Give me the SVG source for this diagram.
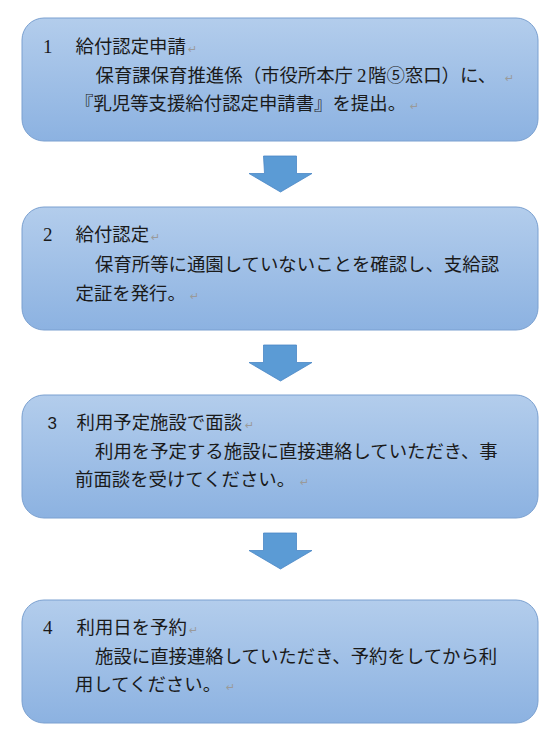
<svg xmlns="http://www.w3.org/2000/svg" width="559" height="747" viewBox="0 0 559 747">
<defs>
<linearGradient id="g" x1="0" y1="0" x2="0" y2="1">
<stop offset="0" stop-color="#b3cdec"/>
<stop offset="1" stop-color="#8cb2e1"/>
</linearGradient>
</defs>
<style>
.box{fill:url(#g);stroke:#7aa0d0;stroke-width:1}
.t{font-family:"Noto Sans CJK JP",sans-serif;font-size:18.4px;fill:#1a1a1a}
.n{font-family:"Liberation Serif",serif;font-size:19px;fill:#1a1a1a}
.ns{font-family:"Liberation Sans",sans-serif;font-size:17px;fill:#1a1a1a}
.r{font-family:"DejaVu Sans",sans-serif;font-size:11px;fill:#9a9a9a}
.arrow{fill:#5b9bd5;stroke:#4a86c5;stroke-width:0.8}
</style>
<rect width="559" height="747" fill="#ffffff"/>

<g id="node1">
<rect class="box" x="22" y="18" width="516" height="123" rx="22" ry="22"/>
<text class="n" x="43" y="53">1</text>
<text class="t" x="75.5" y="53">給付認定申請</text>
<text class="r" x="188" y="53">↵</text>
<text class="t" x="95.5" y="82">保育課保育推進係（市役所本庁</text>
<text class="n" x="357" y="82">2</text>
<text class="t" x="368" y="82">階⑤窓口）に、</text>
<text class="r" x="505" y="82">↵</text>
<text class="t" x="75" y="110">『乳児等支援給付認定申請書』を提出。</text>
<text class="r" x="410" y="110">↵</text>
</g>

<g id="node2">
<rect class="box" x="22" y="207" width="516" height="123" rx="22" ry="22"/>
<text class="n" x="43" y="241">2</text>
<text class="t" x="75.5" y="241">給付認定</text>
<text class="r" x="151" y="241">↵</text>
<text class="t" x="95" y="271">保育所等に通園していないことを確認し、支給認</text>
<text class="t" x="75.5" y="300">定証を発行。</text>
<text class="r" x="190" y="300">↵</text>
</g>

<g id="node3">
<rect class="box" x="22" y="395" width="516" height="123" rx="22" ry="22"/>
<text class="ns" x="47.5" y="429">3</text>
<text class="t" x="76.5" y="429">利用予定施設で面談</text>
<text class="r" x="245" y="429">↵</text>
<text class="t" x="95" y="458">利用を予定する施設に直接連絡していただき、事</text>
<text class="t" x="75" y="486">前面談を受けてください。</text>
<text class="r" x="300" y="486">↵</text>
</g>

<g id="node4">
<rect class="box" x="22" y="600" width="516" height="123" rx="22" ry="22"/>
<text class="n" x="43" y="634">4</text>
<text class="t" x="76.5" y="634">利用日を予約</text>
<text class="r" x="189" y="634">↵</text>
<text class="t" x="95" y="663">施設に直接連絡していただき、予約をしてから利</text>
<text class="t" x="75" y="691">用してください。</text>
<text class="r" x="226" y="691">↵</text>
</g>

<g id="connectors">
<polygon class="arrow" points="263.5,156 296.5,156 296.5,173.5 312,173.5 280.5,192 249,173.5 264.5,173.5" transform="translate(0,0)"/>
<polygon class="arrow" points="263.5,345 296.5,345 296.5,362.5 312,362.5 280.5,381 249,362.5 263.5,362.5"/>
<polygon class="arrow" points="263.5,533 296.5,533 296.5,550.5 312,550.5 280.5,569 249,550.5 263.5,550.5"/>
</g>
</svg>
